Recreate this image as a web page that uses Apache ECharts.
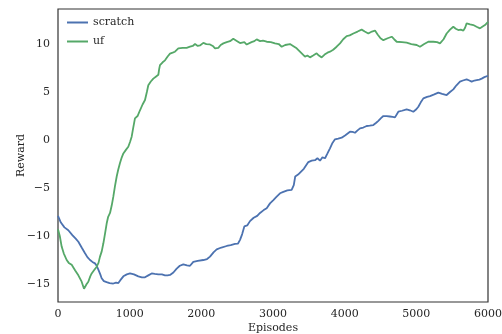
<!DOCTYPE html>
<html>
<head>
<meta charset="utf-8">
<script src="https://cdn.jsdelivr.net/npm/echarts@6/dist/echarts.min.js"></script>
<style>
html,body{margin:0;padding:0;background:#fff;}
#c{width:502px;height:334px;}
</style>
</head>
<body>
<div id="c"></div>
<script>
const seriesNames = ['scratch', 'uf'];
const xTicks = [0, 1000, 2000, 3000, 4000, 5000, 6000];
const yTicks = [-15, -10, -5, 0, 5, 10];

const scratchEpisodes = [0,40,90,144,200,250,284,330,377,410,447,480,516,540,563,590,609,640,679,720,772,810,842,870,912,960,1005,1060,1121,1170,1214,1260,1307,1350,1400,1450,1493,1530,1563,1610,1656,1700,1749,1800,1842,1888,1950,2028,2080,2121,2170,2214,2280,2354,2410,2470,2510,2540,2570,2600,2640,2679,2730,2780,2819,2870,2912,2958,3005,3051,3098,3144,3200,3260,3290,3310,3350,3377,3430,3493,3540,3586,3620,3656,3690,3726,3760,3795,3830,3865,3910,3958,4010,4074,4110,4144,4180,4214,4260,4307,4350,4400,4440,4470,4510,4540,4586,4630,4670,4702,4749,4800,4865,4910,4958,5000,5028,5060,5098,5150,5191,5250,5307,5360,5423,5470,5516,5560,5609,5650,5702,5740,5772,5810,5842,5880,5912,5950,6000];
const scratchReward = [-7.9,-8.6,-9.1,-9.4,-9.9,-10.3,-10.6,-11.2,-11.8,-12.2,-12.5,-12.7,-12.85,-13.1,-13.5,-14.0,-14.4,-14.7,-14.8,-14.9,-14.95,-14.85,-14.9,-14.6,-14.2,-14.0,-13.9,-14.0,-14.2,-14.3,-14.3,-14.1,-13.9,-13.95,-14.0,-14.0,-14.1,-14.1,-14.06,-13.8,-13.4,-13.1,-12.95,-13.05,-13.1,-12.7,-12.6,-12.5,-12.4,-12.15,-11.7,-11.4,-11.2,-11.04,-10.95,-10.83,-10.8,-10.4,-9.8,-9.0,-8.9,-8.45,-8.1,-7.9,-7.6,-7.3,-7.1,-6.6,-6.25,-5.9,-5.55,-5.4,-5.25,-5.2,-4.7,-3.8,-3.6,-3.5,-3.0,-2.3,-2.15,-2.1,-1.9,-2.15,-1.8,-1.9,-1.4,-0.87,-0.3,0.07,0.15,0.24,0.5,0.87,0.85,0.76,1.0,1.21,1.3,1.46,1.5,1.56,1.8,2.0,2.3,2.5,2.5,2.45,2.4,2.36,2.95,3.05,3.2,3.1,2.95,3.2,3.47,3.9,4.34,4.5,4.58,4.75,4.93,4.8,4.69,5.0,5.28,5.7,6.08,6.2,6.32,6.2,6.08,6.2,6.25,6.3,6.4,6.55,6.7];

const ufEpisodes = [0,25,51,80,121,150,191,240,284,330,363,377,400,423,450,470,500,540,565,586,610,633,655,679,700,726,750,772,795,819,840,865,890,912,950,981,1005,1028,1050,1074,1110,1144,1180,1214,1240,1260,1295,1330,1365,1400,1412,1423,1460,1493,1530,1563,1600,1632,1656,1679,1740,1795,1842,1880,1912,1950,1981,2028,2070,2121,2160,2191,2237,2270,2307,2354,2400,2446,2500,2540,2563,2600,2633,2656,2700,2740,2772,2820,2860,2912,2970,3028,3080,3121,3170,3237,3280,3330,3390,3446,3480,3516,3560,3609,3640,3679,3720,3760,3795,3840,3888,3935,3980,4028,4070,4121,4180,4237,4280,4330,4380,4423,4460,4500,4540,4600,4656,4690,4726,4800,4865,4930,5005,5051,5110,5167,5237,5290,5330,5380,5423,5470,5516,5550,5586,5620,5656,5680,5702,5750,5795,5840,5888,5920,5958,6000];
const ufReward = [-9.3,-10.0,-11.1,-11.8,-12.5,-12.8,-13.0,-13.6,-14.1,-14.76,-15.5,-15.45,-15.0,-14.76,-14.2,-13.9,-13.6,-13.2,-12.8,-12.15,-11.6,-10.76,-9.8,-8.7,-8.0,-7.6,-6.8,-5.9,-4.8,-3.8,-3.1,-2.4,-1.8,-1.4,-1.0,-0.7,-0.2,0.35,1.3,2.26,2.5,3.1,3.7,4.17,5.0,5.7,6.1,6.4,6.6,6.8,7.4,7.8,8.1,8.3,8.7,9.0,9.1,9.2,9.4,9.55,9.6,9.6,9.72,9.8,10.0,9.8,9.85,10.12,10.0,9.96,9.8,9.55,9.6,9.9,10.07,10.2,10.3,10.55,10.3,10.1,10.07,10.2,9.95,9.9,10.2,10.3,10.49,10.3,10.35,10.24,10.2,10.07,10.0,9.72,9.9,10.0,9.8,9.55,9.1,8.68,8.8,8.61,8.8,9.03,8.8,8.61,8.9,9.1,9.2,9.4,9.72,10.07,10.5,10.83,10.9,11.1,11.3,11.5,11.3,11.1,11.3,11.4,11.0,10.6,10.4,10.6,10.76,10.5,10.24,10.2,10.14,10.0,9.9,9.72,10.0,10.24,10.24,10.2,10.07,10.5,11.1,11.5,11.8,11.6,11.46,11.5,11.4,11.7,12.15,12.05,11.98,11.8,11.63,11.8,11.98,12.3];

function zip(xs, ys) { return xs.map((x, i) => [x, ys[i]]); }
const FONT = 'DejaVu Serif';
const TXT = '#262626';
const COLORS = ['#4C72B0', '#55A868'];

const chart = echarts.init(document.getElementById('c'), null, {renderer: 'canvas'});
chart.setOption({
  animation: false,
  backgroundColor: '#ffffff',
  grid: {left: 58, right: 14, top: 9, bottom: 32, show: true, borderColor: '#333333', borderWidth: 1.2,
         containLabel: false, outerBoundsMode: 'none'},
  legend: {
    orient: 'vertical', left: 62, top: 12, itemWidth: 21, itemHeight: 2, itemGap: 8,
    icon: 'rect',
    textStyle: {fontFamily: FONT, fontSize: 11, color: TXT},
    data: seriesNames
  },
  xAxis: {
    type: 'value', min: 0, max: 6000, interval: 1000,
    name: 'Episodes', nameLocation: 'middle', nameGap: 21, nameMoveOverlap: false,
    nameTextStyle: {fontFamily: FONT, fontSize: 11, color: TXT},
    axisLine: {show: false}, axisTick: {show: false}, splitLine: {show: false},
    axisLabel: {fontFamily: FONT, fontSize: 11, color: TXT, margin: 7,
      formatter: v => xTicks.includes(v) ? String(v) : ''}
  },
  yAxis: {
    type: 'value', min: -16.875, max: 13.65,
    name: 'Reward', nameLocation: 'middle', nameGap: 31, nameMoveOverlap: false,
    nameTextStyle: {fontFamily: FONT, fontSize: 11, color: TXT},
    axisLine: {show: false}, axisTick: {show: false}, splitLine: {show: false},
    axisLabel: {fontFamily: FONT, fontSize: 11, color: TXT, margin: 8,
      customValues: yTicks,
      formatter: v => String(v).replace('-', '\u2212')}
  },
  series: [
    {name: seriesNames[0], type: 'line', data: zip(scratchEpisodes, scratchReward), symbol: 'none',
     lineStyle: {color: COLORS[0], width: 1.8}, itemStyle: {color: COLORS[0]}},
    {name: seriesNames[1], type: 'line', data: zip(ufEpisodes, ufReward), symbol: 'none',
     lineStyle: {color: COLORS[1], width: 1.8}, itemStyle: {color: COLORS[1]}}
  ]
});
</script>
</body>
</html>
